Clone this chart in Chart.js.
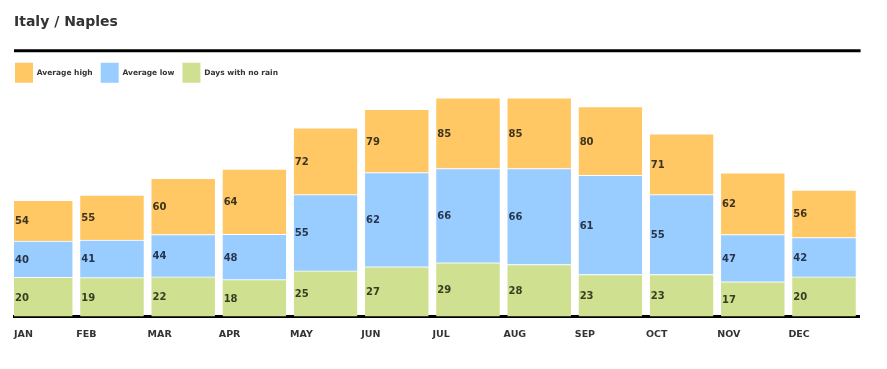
<!DOCTYPE html>
<html>
<head>
<meta charset="utf-8">
<title>Italy / Naples</title>
<script src="https://cdn.jsdelivr.net/npm/chart.js@4.4.1/dist/chart.umd.min.js"></script>
<style>
    body { margin: 0; background: #fff; }
    #wrap { width: 887px; height: 369px; }
</style>
</head>
<body>
<div id="wrap"><canvas id="naplesChart" width="887" height="369"></canvas></div>
<script>
const months = ['JAN', 'FEB', 'MAR', 'APR', 'MAY', 'JUN', 'JUL', 'AUG', 'SEP', 'OCT', 'NOV', 'DEC'];

// numbers printed on the bars
const avgHigh = [54, 55, 60, 64, 72, 79, 85, 85, 80, 71, 62, 56];
const avgLow = [40, 41, 44, 48, 55, 62, 66, 66, 61, 55, 47, 42];
const dryDays = [20, 19, 22, 18, 25, 27, 29, 28, 23, 23, 17, 20];

// segment heights as drawn in the picture (chart units, axis 0-114)
const dryBar = [19.6, 19.4, 19.8, 18.4, 22.8, 24.8, 26.8, 26.0, 21.0, 21.0, 17.4, 19.8];
const lowBar = [18.0, 18.8, 21.1, 22.6, 38.0, 47.0, 47.0, 47.8, 49.4, 39.8, 23.5, 19.6];
const highBar = [20.4, 22.4, 28.1, 32.6, 33.3, 31.6, 35.3, 35.3, 34.3, 30.3, 30.8, 23.7];

const seriesNames = ['Days with no rain', 'Average low', 'Average high'];
const seriesColors = ['#CFE090', '#99CCFF', '#FFC864'];
const textColors = ['#3a3d22', '#26364f', '#3f3420'];

Chart.defaults.font.family = "'DejaVu Sans', Verdana, sans-serif";

const toPoints = (arr) => arr.map((v, i) => ({ x: i, y: v }));

// thick black rule between title and legend
const ruleLine = {
    id: 'ruleLine',
    afterDraw(chart) {
        const { ctx, chartArea } = chart;
        const y = chart.legend.top - 4;
        ctx.save();
        ctx.strokeStyle = '#000';
        ctx.lineWidth = 3;
        ctx.beginPath();
        ctx.moveTo(chartArea.left, y);
        ctx.lineTo(chartArea.right + 1, y);
        ctx.stroke();
        ctx.restore();
    }
};

// value text at the left of every segment
const valueLabels = {
    id: 'valueLabels',
    afterDatasetsDraw(chart) {
        const { ctx, chartArea } = chart;
        const texts = [dryDays, avgLow, avgHigh];
        ctx.save();
        ctx.font = "bold 10px 'DejaVu Sans'";
        ctx.textAlign = 'left';
        ctx.textBaseline = 'middle';
        chart.data.datasets.forEach((ds, i) => {
            ctx.fillStyle = textColors[i];
            chart.getDatasetMeta(i).data.forEach((bar, j) => {
                const { x, y, base, width } = bar.getProps(['x', 'y', 'base', 'width'], true);
                const left = Math.max(x - width / 2, chartArea.left);
                ctx.fillText(texts[i][j], left + 1, (y + base) / 2 + 1);
            });
        });
        ctx.restore();
    }
};

const series = [dryBar, lowBar, highBar];

new Chart(document.getElementById('naplesChart'), {
    type: 'bar',
    data: {
        datasets: series.map((vals, i) => ({
            label: seriesNames[i],
            data: toPoints(vals),
            backgroundColor: seriesColors[i],
            borderColor: '#fff',
            borderWidth: { top: 1, right: 0, bottom: 0, left: 0 },
            borderSkipped: 'start',
            barThickness: 63.5,
            clip: { left: 0, top: false, right: 0, bottom: 0 }
        }))
    },
    options: {
        responsive: false,
        animation: false,
        layout: { padding: { left: 7, right: 27.4, top: 0, bottom: 16 } },
        plugins: {
            title: {
                display: true,
                text: 'Italy / Naples',
                align: 'start',
                fullSize: false,
                color: '#333',
                font: { size: 14, weight: 'bold' },
                padding: { top: 14, bottom: 24 }
            },
            legend: {
                display: true,
                position: 'top',
                align: 'start',
                reverse: true,
                maxHeight: 33.2,
                labels: {
                    boxWidth: 18,
                    boxHeight: 20,
                    padding: 8,
                    color: '#333',
                    font: { size: 7.5, weight: 'bold' },
                    generateLabels: (chart) =>
                        Chart.defaults.plugins.legend.labels.generateLabels(chart)
                            .map(item => Object.assign(item, { lineWidth: 0, strokeStyle: 'rgba(0,0,0,0)' }))
                }
            },
            tooltip: { enabled: false }
        },
        scales: {
            x: {
                type: 'linear',
                stacked: true,
                offset: false,
                min: -0.376,
                max: 11.5,
                grid: { display: false, drawTicks: false },
                border: { display: true, color: '#000', width: 3 },
                afterBuildTicks: (scale) => {
                    scale.ticks = months.map((m, i) => ({ value: Math.max(i - 0.5, scale.min) }));
                },
                ticks: {
                    autoSkip: false,
                    maxRotation: 0,
                    align: 'start',
                    padding: 12.5,
                    color: '#333',
                    font: { size: 9.5, weight: 'bold' },
                    callback: (val, idx) => months[idx]
                }
            },
            y: {
                stacked: true,
                min: 0,
                max: 114,
                grid: { display: false, drawTicks: false },
                border: { display: false },
                ticks: { display: false },
                afterFit: (scale) => { scale.width = 7; }
            }
        }
    },
    plugins: [ruleLine, valueLabels]
});
</script>
</body>
</html>
